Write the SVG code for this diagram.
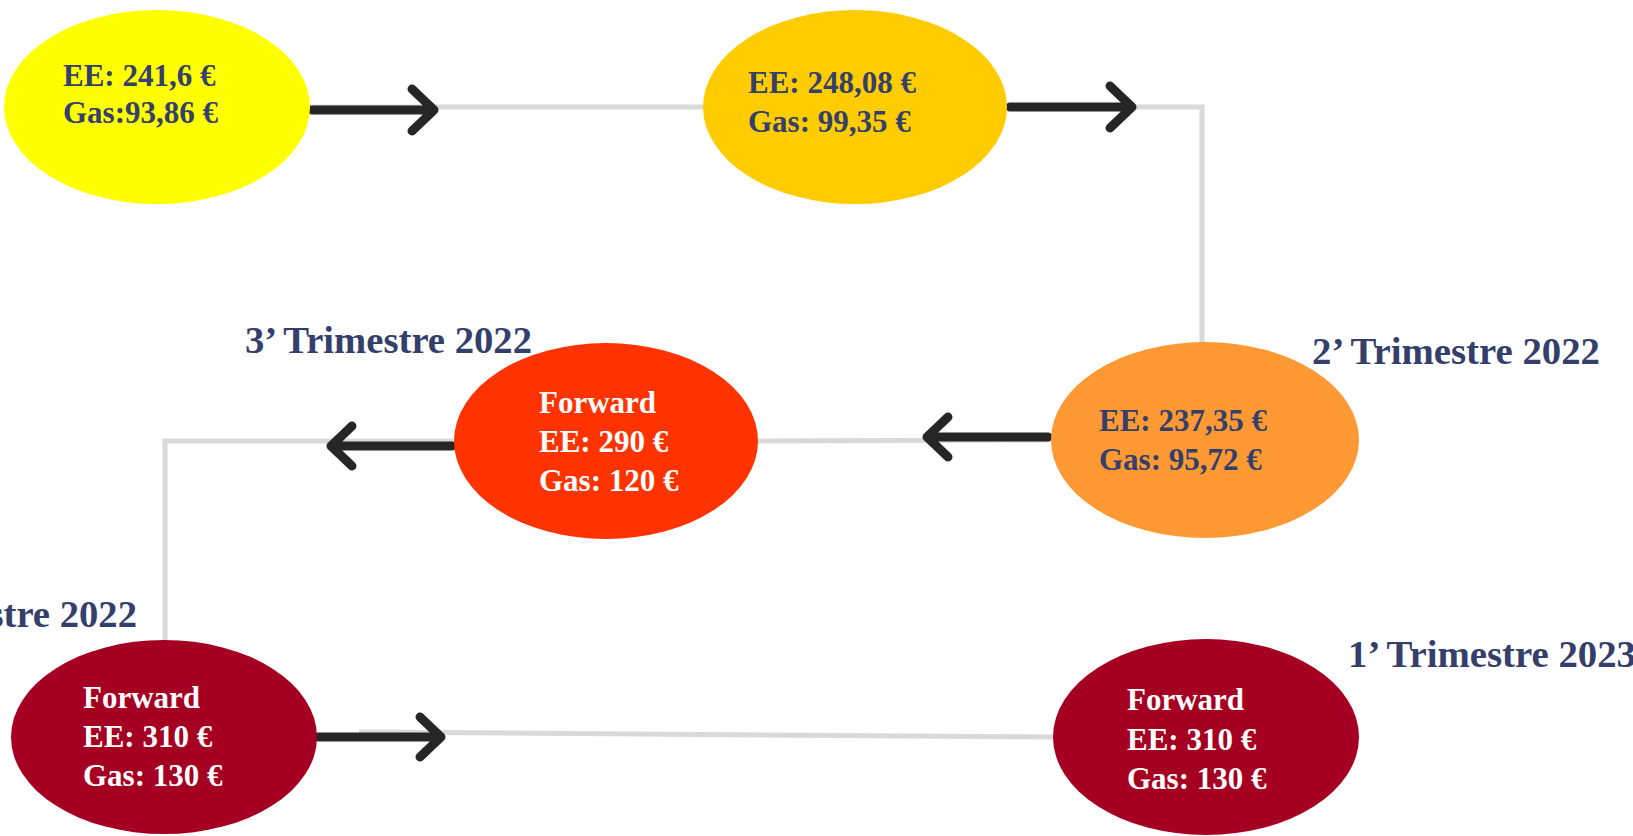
<svg xmlns="http://www.w3.org/2000/svg" width="1633" height="836" viewBox="0 0 1633 836">
<style>
.t{font-family:"Liberation Serif","DejaVu Serif",serif;font-weight:bold;font-size:31px;fill:#34406B}
.w{fill:#FFFFFF}
.lbl{font-family:"Liberation Serif","DejaVu Serif",serif;font-weight:bold;font-size:37px;fill:#34406B}
.gray{fill:none;stroke:#D9D9D9;stroke-width:5}
.blk{fill:none;stroke:#262626;stroke-width:9;stroke-linecap:round;stroke-linejoin:round}
</style>
<rect width="1633" height="836" fill="#FFFFFF"/>
<g id="connectors">
<polyline class="gray" points="310,107 703,107"/>
<polyline class="gray" points="1008,107 1202,107 1202,343"/>
<polyline class="gray" points="1050,440 758,441"/>
<polyline class="gray" points="453,441 165,441 165,642"/>
<polyline class="gray" points="359,732 1053,737"/>
<path class="blk" d="M312,110 H434 M412,89 L434,110 L412,131"/>
<path class="blk" d="M1010,107 H1132 M1110,86 L1132,107 L1110,128"/>
<path class="blk" d="M1048,437 H927 M948,417 L927,437 L948,457"/>
<path class="blk" d="M452,446 H331 M352,426 L331,446 L352,466"/>
<path class="blk" d="M318,737 H441 M420,717 L441,737 L420,757"/>
</g>
<g id="node-1">
<ellipse cx="157" cy="107" rx="153" ry="97" fill="#FFFF00"/>
<text class="t" x="63" y="86">EE: 241,6 €</text>
<text class="t" x="63" y="123">Gas:93,86 €</text>
</g>
<g id="node-2">
<ellipse cx="855" cy="107" rx="152" ry="97" fill="#FFCC00"/>
<text class="t" x="748" y="93">EE: 248,08 €</text>
<text class="t" x="748" y="132">Gas: 99,35 €</text>
</g>
<g id="node-3">
<ellipse cx="1205" cy="440" rx="154" ry="98" fill="#FF9933"/>
<text class="t" x="1099" y="431">EE: 237,35 €</text>
<text class="t" x="1099" y="470">Gas: 95,72 €</text>
<text class="lbl" x="1312" y="364" textLength="288" lengthAdjust="spacingAndGlyphs">2’ Trimestre 2022</text>
</g>
<g id="node-4">
<ellipse cx="606" cy="441" rx="152" ry="98" fill="#FF3300"/>
<text class="t w" x="539" y="413">Forward</text>
<text class="t w" x="539" y="452">EE: 290 €</text>
<text class="t w" x="539" y="491">Gas: 120 €</text>
<text class="lbl" x="245" y="353" textLength="287" lengthAdjust="spacingAndGlyphs">3’ Trimestre 2022</text>
</g>
<g id="node-5">
<ellipse cx="164" cy="737" rx="153" ry="97" fill="#A50021"/>
<text class="t w" x="83" y="708">Forward</text>
<text class="t w" x="83" y="747">EE: 310 €</text>
<text class="t w" x="83" y="786">Gas: 130 €</text>
<text class="lbl" x="-150" y="627" textLength="287" lengthAdjust="spacingAndGlyphs">4’ Trimestre 2022</text>
</g>
<g id="node-6">
<ellipse cx="1206" cy="737" rx="153" ry="98" fill="#A50021"/>
<text class="t w" x="1127" y="710">Forward</text>
<text class="t w" x="1127" y="750">EE: 310 €</text>
<text class="t w" x="1127" y="789">Gas: 130 €</text>
<text class="lbl" x="1348" y="667" textLength="288" lengthAdjust="spacingAndGlyphs">1’ Trimestre 2023</text>
</g>
</svg>
